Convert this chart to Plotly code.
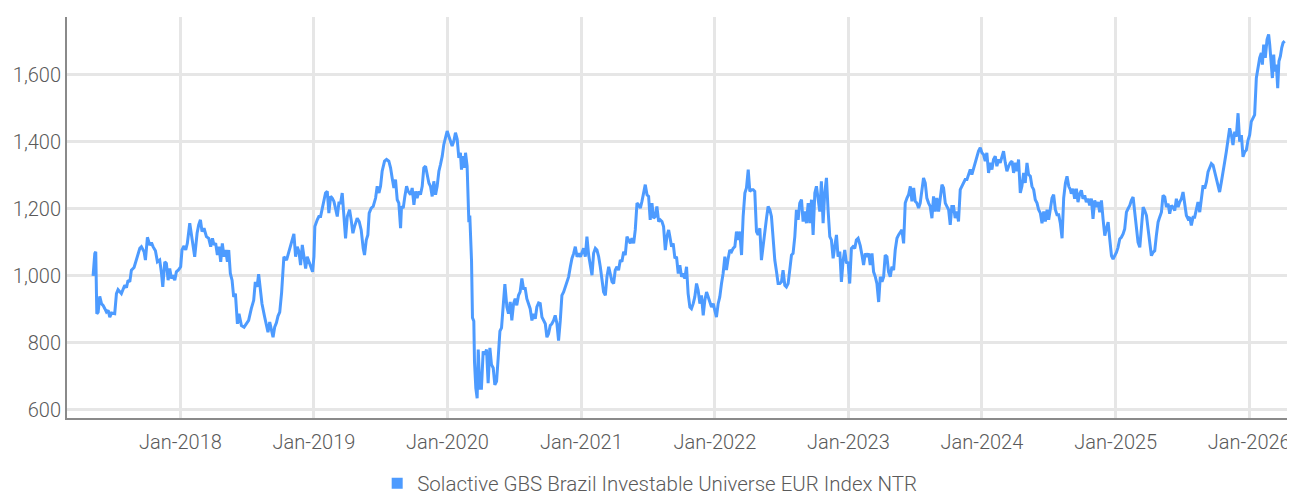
import datetime as dt
import plotly.graph_objects as go

SERIES_NAME = "Solactive GBS Brazil Investable Universe EUR Index NTR"

# time positions as decimal years
years = [
    2017.346, 2017.359, 2017.366, 2017.374, 2017.384, 2017.396, 2017.409, 2017.421, 2017.434, 2017.446,
    2017.459, 2017.471, 2017.484, 2017.508, 2017.521, 2017.533, 2017.558, 2017.583, 2017.596, 2017.608,
    2017.621, 2017.633, 2017.653, 2017.671, 2017.696, 2017.708, 2017.728, 2017.738, 2017.753, 2017.770,
    2017.783, 2017.795, 2017.813, 2017.828, 2017.845, 2017.858, 2017.868, 2017.883, 2017.895, 2017.908,
    2017.920, 2017.933, 2017.945, 2017.958, 2017.970, 2017.988, 2018.002, 2018.012, 2018.027, 2018.040,
    2018.052, 2018.070, 2018.082, 2018.095, 2018.107, 2018.125, 2018.137, 2018.150, 2018.162, 2018.177,
    2018.195, 2018.212, 2018.227, 2018.240, 2018.252, 2018.264, 2018.277, 2018.289, 2018.302, 2018.314,
    2018.327, 2018.339, 2018.352, 2018.362, 2018.374, 2018.387, 2018.399, 2018.412, 2018.427, 2018.439,
    2018.457, 2018.477, 2018.494, 2018.511, 2018.531, 2018.549, 2018.561, 2018.574, 2018.586, 2018.599,
    2018.611, 2018.631, 2018.644, 2018.656, 2018.669, 2018.681, 2018.694, 2018.706, 2018.719, 2018.731,
    2018.744, 2018.758, 2018.765, 2018.775, 2018.795, 2018.813, 2018.825, 2018.838, 2018.850, 2018.863,
    2018.875, 2018.888, 2018.900, 2018.913, 2018.925, 2018.938, 2018.950, 2018.963, 2018.975, 2018.990,
    2019.000, 2019.007, 2019.025, 2019.037, 2019.050, 2019.062, 2019.075, 2019.087, 2019.100, 2019.112,
    2019.125, 2019.137, 2019.150, 2019.162, 2019.175, 2019.187, 2019.200, 2019.212, 2019.225, 2019.237,
    2019.250, 2019.267, 2019.279, 2019.292, 2019.304, 2019.324, 2019.339, 2019.354, 2019.369, 2019.379,
    2019.392, 2019.404, 2019.414, 2019.429, 2019.444, 2019.462, 2019.474, 2019.487, 2019.499, 2019.511,
    2019.529, 2019.544, 2019.561, 2019.574, 2019.586, 2019.599, 2019.611, 2019.624, 2019.636, 2019.649,
    2019.656, 2019.669, 2019.681, 2019.694, 2019.706, 2019.724, 2019.736, 2019.749, 2019.761, 2019.773,
    2019.786, 2019.798, 2019.811, 2019.823, 2019.836, 2019.848, 2019.861, 2019.873, 2019.886, 2019.898,
    2019.911, 2019.923, 2019.936, 2019.948, 2019.961, 2019.973, 2019.986, 2019.998, 2020.010, 2020.023,
    2020.035, 2020.048, 2020.060, 2020.073, 2020.085, 2020.097, 2020.105, 2020.117, 2020.128, 2020.135,
    2020.147, 2020.160, 2020.167, 2020.180, 2020.187, 2020.197, 2020.202, 2020.212, 2020.222, 2020.230,
    2020.242, 2020.254, 2020.267, 2020.279, 2020.292, 2020.304, 2020.317, 2020.329, 2020.342, 2020.354,
    2020.367, 2020.379, 2020.392, 2020.404, 2020.417, 2020.429, 2020.444, 2020.456, 2020.469, 2020.481,
    2020.494, 2020.506, 2020.518, 2020.531, 2020.543, 2020.556, 2020.568, 2020.581, 2020.593, 2020.606,
    2020.618, 2020.631, 2020.643, 2020.656, 2020.668, 2020.681, 2020.693, 2020.706, 2020.718, 2020.731,
    2020.743, 2020.755, 2020.768, 2020.780, 2020.793, 2020.805, 2020.818, 2020.830, 2020.843, 2020.855,
    2020.868, 2020.880, 2020.893, 2020.905, 2020.918, 2020.930, 2020.943, 2020.955, 2020.968, 2020.980,
    2020.993, 2021.005, 2021.017, 2021.030, 2021.042, 2021.055, 2021.067, 2021.080, 2021.092, 2021.105,
    2021.117, 2021.130, 2021.142, 2021.155, 2021.167, 2021.180, 2021.192, 2021.205, 2021.217, 2021.230,
    2021.242, 2021.254, 2021.267, 2021.279, 2021.292, 2021.304, 2021.317, 2021.329, 2021.342, 2021.354,
    2021.367, 2021.379, 2021.392, 2021.404, 2021.417, 2021.429, 2021.442, 2021.454, 2021.467, 2021.479,
    2021.492, 2021.504, 2021.516, 2021.529, 2021.541, 2021.554, 2021.566, 2021.579, 2021.591, 2021.604,
    2021.616, 2021.629, 2021.641, 2021.654, 2021.663, 2021.676, 2021.688, 2021.701, 2021.713, 2021.726,
    2021.738, 2021.751, 2021.763, 2021.775, 2021.788, 2021.800, 2021.813, 2021.825, 2021.838, 2021.850,
    2021.863, 2021.875, 2021.888, 2021.900, 2021.913, 2021.925, 2021.938, 2021.950, 2021.963, 2021.975,
    2021.988, 2022.000, 2022.012, 2022.025, 2022.037, 2022.050, 2022.062, 2022.075, 2022.087, 2022.100,
    2022.112, 2022.125, 2022.137, 2022.150, 2022.162, 2022.175, 2022.187, 2022.200, 2022.212, 2022.225,
    2022.237, 2022.250, 2022.262, 2022.274, 2022.287, 2022.299, 2022.312, 2022.324, 2022.337, 2022.349,
    2022.362, 2022.374, 2022.387, 2022.399, 2022.412, 2022.424, 2022.437, 2022.449, 2022.462, 2022.474,
    2022.487, 2022.499, 2022.511, 2022.524, 2022.536, 2022.549, 2022.561, 2022.574, 2022.586, 2022.599,
    2022.611, 2022.624, 2022.636, 2022.649, 2022.661, 2022.674, 2022.686, 2022.699, 2022.711, 2022.724,
    2022.736, 2022.749, 2022.761, 2022.773, 2022.786, 2022.798, 2022.811, 2022.823, 2022.836, 2022.848,
    2022.861, 2022.873, 2022.886, 2022.898, 2022.911, 2022.923, 2022.936, 2022.948, 2022.961, 2022.973,
    2022.986, 2022.998, 2023.010, 2023.023, 2023.035, 2023.048, 2023.060, 2023.073, 2023.089, 2023.102,
    2023.114, 2023.127, 2023.139, 2023.152, 2023.164, 2023.177, 2023.189, 2023.202, 2023.214, 2023.227,
    2023.239, 2023.252, 2023.264, 2023.276, 2023.289, 2023.301, 2023.314, 2023.326, 2023.339, 2023.351,
    2023.364, 2023.376, 2023.389, 2023.401, 2023.414, 2023.426, 2023.439, 2023.451, 2023.464, 2023.476,
    2023.489, 2023.501, 2023.513, 2023.526, 2023.538, 2023.551, 2023.563, 2023.576, 2023.588, 2023.601,
    2023.613, 2023.626, 2023.638, 2023.651, 2023.663, 2023.676, 2023.688, 2023.701, 2023.713, 2023.726,
    2023.738, 2023.751, 2023.763, 2023.775, 2023.788, 2023.800, 2023.813, 2023.825, 2023.838, 2023.850,
    2023.863, 2023.875, 2023.888, 2023.900, 2023.913, 2023.925, 2023.938, 2023.950, 2023.963, 2023.975,
    2023.988, 2024.000, 2024.012, 2024.025, 2024.037, 2024.050, 2024.062, 2024.075, 2024.087, 2024.100,
    2024.112, 2024.125, 2024.137, 2024.150, 2024.162, 2024.175, 2024.187, 2024.200, 2024.212, 2024.225,
    2024.237, 2024.250, 2024.262, 2024.274, 2024.287, 2024.299, 2024.312, 2024.324, 2024.337, 2024.349,
    2024.362, 2024.374, 2024.387, 2024.399, 2024.412, 2024.424, 2024.437, 2024.449, 2024.462, 2024.474,
    2024.487, 2024.499, 2024.511, 2024.524, 2024.536, 2024.549, 2024.561, 2024.574, 2024.586, 2024.599,
    2024.611, 2024.624, 2024.636, 2024.649, 2024.661, 2024.668, 2024.681, 2024.693, 2024.706, 2024.718,
    2024.731, 2024.743, 2024.755, 2024.768, 2024.780, 2024.793, 2024.805, 2024.818, 2024.830, 2024.843,
    2024.855, 2024.868, 2024.880, 2024.893, 2024.905, 2024.918, 2024.930, 2024.943, 2024.955, 2024.968,
    2024.980, 2024.993, 2025.005, 2025.017, 2025.030, 2025.042, 2025.055, 2025.067, 2025.080, 2025.092,
    2025.105, 2025.117, 2025.130, 2025.142, 2025.155, 2025.167, 2025.180, 2025.192, 2025.205, 2025.217,
    2025.230, 2025.242, 2025.254, 2025.267, 2025.279, 2025.292, 2025.304, 2025.317, 2025.329, 2025.342,
    2025.354, 2025.367, 2025.379, 2025.392, 2025.404, 2025.417, 2025.429, 2025.442, 2025.454, 2025.467,
    2025.479, 2025.492, 2025.504, 2025.516, 2025.529, 2025.541, 2025.554, 2025.566, 2025.579, 2025.591,
    2025.604, 2025.616, 2025.629, 2025.641, 2025.654, 2025.666, 2025.679, 2025.691, 2025.704, 2025.716,
    2025.729, 2025.741, 2025.753, 2025.766, 2025.778, 2025.791, 2025.803, 2025.816, 2025.828, 2025.841,
    2025.853, 2025.866, 2025.878, 2025.891, 2025.903, 2025.916, 2025.928, 2025.941, 2025.953, 2025.966,
    2025.978, 2025.991, 2026.003, 2026.015, 2026.028, 2026.040, 2026.053, 2026.065, 2026.078, 2026.090,
    2026.098, 2026.108, 2026.120, 2026.133, 2026.145, 2026.153, 2026.165, 2026.173, 2026.183, 2026.190,
    2026.203, 2026.213, 2026.222, 2026.233, 2026.243, 2026.253, 2026.265,
]

# index level
values = [
    1000, 1067, 1072, 887, 892, 939, 917, 912, 902, 892,
    897, 877, 889, 887, 947, 959, 947, 972, 965, 987,
    982, 1017, 1025, 1047, 1082, 1087, 1072, 1047, 1115, 1092,
    1099, 1087, 1075, 1042, 1047, 1009, 967, 1042, 1037, 987,
    1022, 992, 1002, 987, 1012, 1019, 1027, 1077, 1089, 1077,
    1097, 1157, 1127, 1087, 1057, 1127, 1152, 1167, 1132, 1142,
    1117, 1112, 1087, 1112, 1092, 1097, 1062, 1087, 1042, 1097,
    1057, 1077, 1042, 1077, 1007, 987, 937, 947, 857, 887,
    852, 847, 857, 867, 902, 927, 982, 967, 1005, 947,
    917, 877, 847, 832, 862, 837, 817, 847, 860, 880,
    892, 950, 1000, 1057, 1047, 1072, 1092, 1107, 1125, 1057,
    1087, 1072, 1032, 1092, 1062, 1022, 1057, 1042, 1027, 1012,
    1057, 1147, 1167, 1177, 1177, 1202, 1222, 1247, 1252, 1187,
    1237, 1232, 1222, 1197, 1177, 1217, 1217, 1247, 1167, 1112,
    1177, 1197, 1167, 1127, 1147, 1172, 1162, 1137, 1082, 1062,
    1107, 1122, 1187, 1202, 1207, 1232, 1267, 1247, 1267, 1312,
    1342, 1347, 1342, 1322, 1292, 1262, 1287, 1227, 1217, 1142,
    1207, 1202, 1237, 1267, 1252, 1242, 1262, 1212, 1252, 1232,
    1252, 1242, 1267, 1322, 1327, 1302, 1277, 1267, 1237, 1282,
    1242, 1267, 1312, 1332, 1357, 1392, 1412, 1432, 1417, 1402,
    1387, 1402, 1427, 1407, 1352, 1367, 1317, 1357, 1322, 1367,
    1327, 1160, 1180, 1045, 875, 865, 745, 665, 635, 780,
    665, 665, 775, 765, 780, 680, 785, 735, 725, 675,
    685, 755, 835, 845, 925, 975, 907, 887, 922, 867,
    917, 932, 912, 942, 952, 992, 962, 962, 932, 917,
    902, 867, 887, 872, 907, 919, 917, 877, 867, 857,
    817, 827, 852, 857, 867, 882, 857, 807, 867, 942,
    952, 967, 977, 997, 1027, 1052, 1067, 1087, 1057, 1067,
    1057, 1072, 1082, 1057, 1117, 1062, 1027, 1002, 1067, 1082,
    1077, 1057, 1027, 977, 952, 942, 997, 1027, 1007, 982,
    977, 1017, 1027, 1017, 1047, 1042, 1072, 1062, 1117, 1107,
    1097, 1112, 1097, 1137, 1217, 1212, 1202, 1222, 1247, 1272,
    1242, 1237, 1167, 1217, 1172, 1177, 1207, 1162, 1167, 1162,
    1147, 1077, 1117, 1137, 1117, 1087, 1097, 1052, 1057, 1007,
    1032, 997, 1007, 992, 1027, 947, 907, 902, 917, 937,
    977, 957, 917, 942, 882, 927, 952, 937, 927, 907,
    917, 892, 877, 917, 937, 977, 1007, 1057, 1017, 1052,
    1077, 1072, 1082, 1087, 1132, 1107, 1132, 1062, 1177, 1247,
    1262, 1317, 1252, 1257, 1257, 1252, 1132, 1122, 1142, 1047,
    1097, 1132, 1172, 1207, 1197, 1177, 1107, 1047, 1012, 977,
    977, 982, 1017, 972, 967, 977, 1017, 1062, 1067, 1117,
    1197, 1167, 1217, 1227, 1162, 1192, 1157, 1217, 1157, 1227,
    1122, 1247, 1267, 1237, 1192, 1282, 1157, 1247, 1292, 1197,
    1117, 1107, 1052, 1087, 1122, 1057, 1072, 982, 1047, 1077,
    1037, 1042, 977, 1082, 1087, 1082, 1107, 1112, 1090, 1062,
    1032, 1067, 1057, 1067, 1032, 1067, 1012, 997, 977, 922,
    997, 982, 997, 1062, 1057, 1012, 997, 1027, 1017, 1077,
    1112, 1122, 1132, 1137, 1097, 1217, 1232, 1242, 1267, 1222,
    1262, 1222, 1217, 1202, 1217, 1267, 1292, 1277, 1232, 1217,
    1207, 1172, 1237, 1192, 1232, 1192, 1227, 1272, 1262, 1217,
    1207, 1197, 1152, 1207, 1207, 1172, 1192, 1162, 1257, 1267,
    1282, 1287, 1287, 1302, 1317, 1302, 1322, 1337, 1357, 1372,
    1382, 1367, 1362, 1342, 1367, 1307, 1337, 1317, 1347, 1357,
    1327, 1347, 1337, 1352, 1372, 1337, 1312, 1327, 1337, 1342,
    1307, 1337, 1312, 1347, 1247, 1267, 1307, 1277, 1337, 1302,
    1297, 1267, 1257, 1227, 1217, 1197, 1187, 1157, 1192, 1162,
    1197, 1167, 1202, 1232, 1242, 1197, 1182, 1182, 1157, 1112,
    1232, 1277, 1297, 1267, 1257, 1245, 1260, 1230, 1260, 1220,
    1245, 1255, 1230, 1240, 1220, 1230, 1210, 1230, 1170, 1225,
    1205, 1220, 1190, 1225, 1170, 1120, 1140, 1160, 1110, 1060,
    1050, 1060, 1070, 1085, 1110, 1115, 1125, 1140, 1190, 1200,
    1210, 1225, 1235, 1190, 1140, 1100, 1085, 1150, 1205, 1195,
    1180, 1140, 1100, 1060, 1070, 1075, 1120, 1160, 1175, 1190,
    1240, 1235, 1205, 1215, 1185, 1210, 1205, 1195, 1230, 1205,
    1220, 1230, 1250, 1210, 1180, 1170, 1175, 1150, 1175, 1175,
    1205, 1220, 1190, 1235, 1270, 1260, 1280, 1310, 1325, 1335,
    1330, 1310, 1290, 1270, 1250, 1280, 1315, 1340, 1370, 1405,
    1440, 1420, 1390, 1430, 1415, 1485, 1400, 1420, 1355, 1370,
    1375, 1405, 1420, 1460, 1470, 1480, 1590, 1620, 1650, 1665,
    1630, 1690, 1650, 1705, 1720, 1690, 1630, 1590, 1660, 1610,
    1630, 1560, 1640, 1655, 1680, 1695, 1700,
]

y_ticks = [600, 800, 1000, 1200, 1400, 1600]
y_range = [576, 1772]
x_range = ["2017-02-25", "2026-05-06"]


def to_date(t):
    yr = int(t)
    start = dt.datetime(yr, 1, 1)
    end = dt.datetime(yr + 1, 1, 1)
    return start + (end - start) * (t - yr)


dates = [to_date(t) for t in years]

LINE_COLOR = "#4d9bff"
TEXT_COLOR = "#5a5a5a"
FONT = "Roboto, sans-serif"
FONT_SIZE = 20

fig = go.Figure()
fig.add_trace(go.Scatter(
    x=dates, y=values, mode="lines", name=SERIES_NAME,
    line=dict(color=LINE_COLOR, width=3), showlegend=False,
    hovertemplate="%{x|%d %b %Y}: %{y:,.2f}<extra></extra>",
))
# legend entry with a square symbol
fig.add_trace(go.Scatter(
    x=[None], y=[None], mode="markers", name=SERIES_NAME,
    marker=dict(symbol="square", size=11, color=LINE_COLOR), showlegend=True,
))

# page body has an 8px margin, so the figure is 8px smaller on each axis
fig.update_layout(
    width=1287, height=490,
    margin=dict(l=59, r=0, t=9, b=80, autoexpand=False),
    paper_bgcolor="white", plot_bgcolor="white",
    font=dict(family=FONT, size=FONT_SIZE, color=TEXT_COLOR, weight=300),
    legend=dict(orientation="h", x=0.4745, xanchor="center", y=-0.163, yanchor="middle",
                font=dict(family=FONT, size=20.5, color=TEXT_COLOR, weight=300),
                itemwidth=30, tracegroupgap=0),
    showlegend=True,
)
fig.update_xaxes(
    type="date", range=x_range, tick0="2018-01-01", dtick="M12", tickformat="%b-%Y",
    showgrid=True, gridcolor="#e6e6e6", gridwidth=2.5,
    showline=True, linecolor="#8a8a8a", linewidth=2,
    ticks="", ticklabelstandoff=5, zeroline=False, automargin=False,
)
fig.update_yaxes(
    range=y_range, tickvals=y_ticks, tickformat=",",
    showgrid=True, gridcolor="#e6e6e6", gridwidth=2.5,
    showline=True, linecolor="#8a8a8a", linewidth=2,
    ticks="", ticklen=0, ticklabelstandoff=0, zeroline=False, automargin=False,
)

fig.write_html("out.html")
